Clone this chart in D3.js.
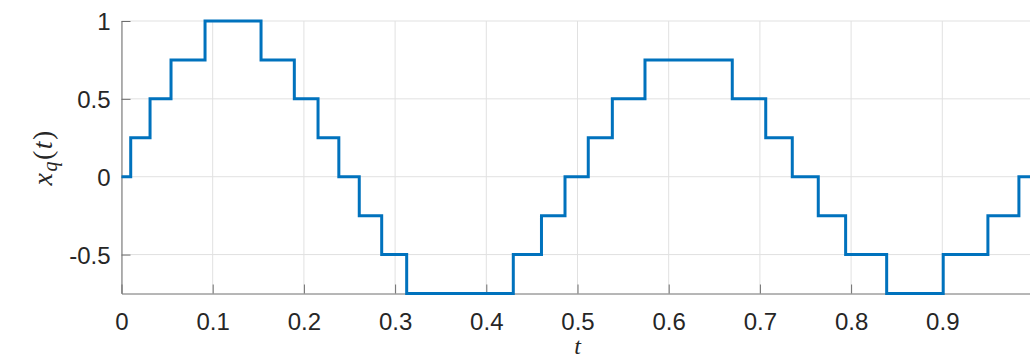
<!DOCTYPE html>
<html>
<head>
<meta charset="utf-8">
<script src="https://cdn.jsdelivr.net/npm/d3@7"></script>
<style>
  body { margin: 0; background: #fff; }
  svg { display: block; }
  .tick text { font-family: "Liberation Sans", Arial, sans-serif; font-size: 24px; fill: #262626; }
</style>
</head>
<body>
<div id="chart"></div>
<script>
// quantized signal: each entry is where a new level starts
var stepTimes  = [0, 0.0101, 0.0313, 0.0543, 0.0916, 0.153, 0.1895, 0.2155, 0.2383, 0.2607, 0.2853, 0.3127,
                  0.4296, 0.4605, 0.4863, 0.5118, 0.5382, 0.574, 0.6697, 0.7064, 0.7355, 0.764, 0.794, 0.839,
                  0.901, 0.950, 0.984, 1.0];
var stepLevels = [0, 0.25, 0.5, 0.75, 1, 0.75, 0.5, 0.25, 0, -0.25, -0.5, -0.75,
                  -0.5, -0.25, 0, 0.25, 0.5, 0.75, 0.5, 0.25, 0, -0.25, -0.5, -0.75,
                  -0.5, -0.25, 0, 0];
var xTicks = [0, 0.1, 0.2, 0.3, 0.4, 0.5, 0.6, 0.7, 0.8, 0.9];
var yTicks = [-0.5, 0, 0.5, 1];

var svgWidth = 1030;
var svgHeight = 360;

var margin = {
    top: 21,
    left: 121.5
};
var width = 912;
var height = 272.5;

var svg = d3.select("#chart")
    .append("svg")
    .attr("width", svgWidth)
    .attr("height", svgHeight);

var chartGroup = svg.append("g")
    .attr("transform", `translate(${margin.left}, ${margin.top})`);

var xScale = d3.scaleLinear().domain([0, 1]).range([0, width]);
var yScale = d3.scaleLinear().domain([-0.75, 1]).range([height, 0]);

// grid
chartGroup.append("g")
    .selectAll("line")
    .data(xTicks)
    .enter()
    .append("line")
    .attr("x1", d => xScale(d)).attr("x2", d => xScale(d))
    .attr("y1", 0).attr("y2", height)
    .attr("stroke", "#e1e1e1");

chartGroup.append("g")
    .selectAll("line")
    .data(yTicks)
    .enter()
    .append("line")
    .attr("x1", 0).attr("x2", width)
    .attr("y1", d => yScale(d)).attr("y2", d => yScale(d))
    .attr("stroke", "#e1e1e1");

// axes, ticks pointing inward
var bottomAxis = d3.axisBottom(xScale)
    .tickValues(xTicks)
    .tickFormat(d => String(+d.toFixed(1)))
    .tickSizeInner(-9).tickSizeOuter(0).tickPadding(19);
var leftAxis = d3.axisLeft(yScale)
    .tickValues(yTicks)
    .tickFormat(d => String(d))
    .tickSizeInner(-9).tickSizeOuter(0).tickPadding(11);

var xAxisG = chartGroup.append("g")
    .attr("transform", `translate(0, ${height})`)
    .call(bottomAxis);
var yAxisG = chartGroup.append("g")
    .call(leftAxis);

[xAxisG, yAxisG].forEach(function(g) {
    g.select(".domain").attr("stroke", "#6e6e6e");
    g.selectAll(".tick line").attr("stroke", "#6e6e6e");
});
yAxisG.selectAll(".tick text").attr("dy", "0.36em");

// signal
var line = d3.line()
    .x((d, i) => xScale(stepTimes[i]))
    .y(d => yScale(d))
    .curve(d3.curveStepAfter);

chartGroup.append("path")
    .datum(stepLevels)
    .attr("d", line)
    .attr("fill", "none")
    .attr("stroke", "#0072BD")
    .attr("stroke-width", 3)
    .attr("stroke-linejoin", "miter");

// labels
var yLabel = svg.append("text")
    .attr("transform", `translate(52, ${margin.top + height / 2}) rotate(-90)`)
    .attr("text-anchor", "middle")
    .style("font-family", "'Liberation Serif', 'Times New Roman', serif")
    .style("font-style", "italic")
    .style("font-size", "28px")
    .style("letter-spacing", "1.5px")
    .attr("fill", "#262626");
yLabel.append("tspan").text("x");
yLabel.append("tspan").attr("dy", 5).style("font-size", "20px").text("q");
yLabel.append("tspan").attr("dy", -5).style("font-style", "normal").text("(");
yLabel.append("tspan").text("t");
yLabel.append("tspan").style("font-style", "normal").text(")");

svg.append("text")
    .attr("x", margin.left + 456)
    .attr("y", 354)
    .attr("text-anchor", "middle")
    .style("font-family", "'Liberation Serif', 'Times New Roman', serif")
    .style("font-style", "italic")
    .style("font-size", "24px")
    .attr("fill", "#262626")
    .text("t");
</script>
</body>
</html>
